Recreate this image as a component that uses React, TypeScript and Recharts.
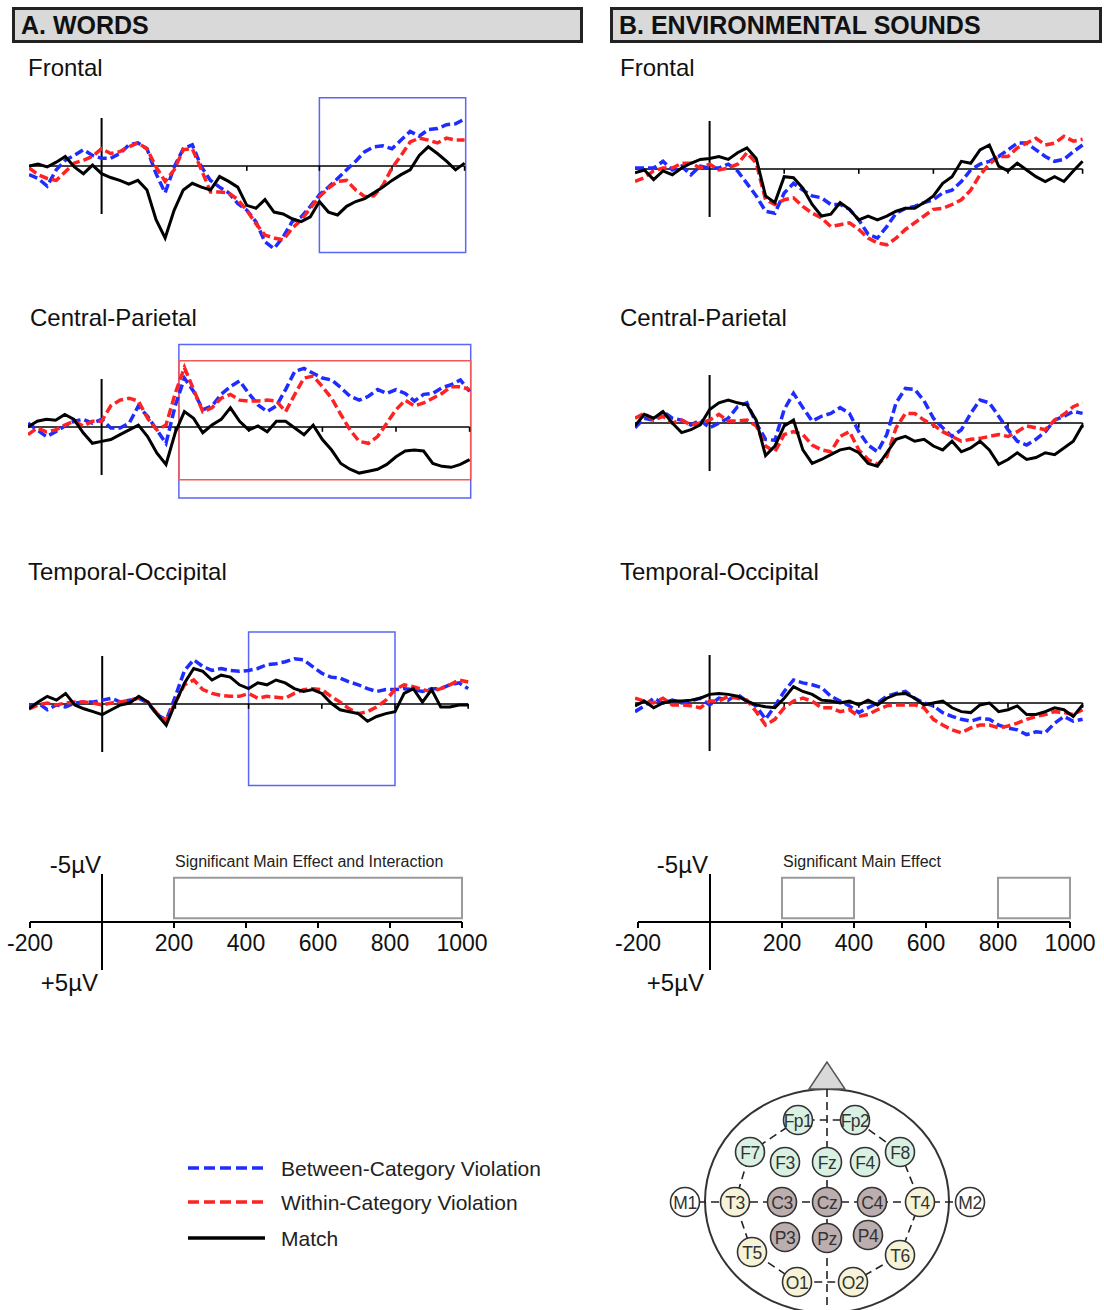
import React from 'react'
import {
  LineChart,
  Line,
  XAxis,
  YAxis,
  ReferenceLine,
  ReferenceArea,
  ScatterChart,
  Scatter,
} from 'recharts'

// time points (ms) of the grand-average waveforms
const TIMES = [
  -200, -175, -150, -125, -100, -75, -50, -25, 0, 25, 50, 75, 100, 125, 150, 175, 200, 225, 250, 275,
  300, 325, 350, 375, 400, 425, 450, 475, 500, 525, 550, 575, 600, 625, 650, 675, 700, 725, 750, 775,
  800, 825, 850, 875, 900, 925, 950, 975, 1000,
]

// amplitudes in µV, negative plotted up
const A_FRONTAL_BETWEEN = [0.9, 1.3, 2.1, 0.4, -0.6, -1.1, -1.7, -1.1, -0.8, -0.8, -1.3, -2.2, -2.4, -1.8, 0.8, 2.8, 0.1, -1.8, -2.2, 0.1, 1.5, 2.2, 2.8, 3.9, 4.6, 5.8, 7.9, 8.6, 7.4, 5.8, 5.3, 4.2, 3.0, 2.2, 1.3, 0.4, -0.5, -1.5, -2.0, -2.1, -1.8, -2.7, -3.6, -3.1, -3.8, -3.9, -4.3, -4.4, -4.9]
const A_FRONTAL_WITHIN = [0.2, 0.9, 1.3, 1.5, 0.6, -0.3, -0.6, -1.0, -1.8, -1.3, -1.5, -2.0, -2.4, -1.8, 0.1, 1.6, 0.4, -1.7, -1.8, 0.4, 2.7, 2.7, 2.8, 3.5, 4.6, 6.0, 7.2, 7.5, 7.7, 6.5, 5.6, 4.4, 3.2, 2.3, 1.6, 1.5, 2.5, 3.2, 3.1, 2.0, 0.2, -1.1, -2.5, -2.9, -2.7, -2.4, -2.9, -2.7, -2.7]
const A_FRONTAL_MATCH = [0, -0.2, 0.1, -0.4, -1.0, 0.1, 0.8, -0.1, 0.8, 1.2, 1.5, 1.9, 1.5, 2.5, 5.6, 7.5, 4.6, 2.5, 1.8, 2.2, 2.5, 1.1, 1.6, 2.2, 4.1, 4.4, 3.5, 4.8, 5.0, 5.5, 5.8, 5.3, 3.7, 4.8, 5.1, 4.2, 3.7, 3.4, 2.8, 2.2, 1.5, 0.9, 0.4, -1.1, -2.0, -1.3, -0.5, 0.4, -0.3]

const A_CP_BETWEEN = [-0.4, 0.3, 1.0, 0.5, -0.1, -0.6, -0.8, -0.4, -0.8, 0.1, 0.1, -0.4, -2.2, -1.1, 0.3, 1.7, -2.2, -5.1, -3.7, -1.8, -2.2, -3.4, -4.2, -4.8, -3.5, -2.3, -1.6, -2.2, -3.9, -5.8, -6.1, -5.6, -5.1, -4.9, -4.1, -3.2, -2.8, -3.2, -3.9, -3.5, -3.9, -3.5, -2.7, -3.4, -3.5, -4.1, -4.4, -4.9, -3.7]
const A_CP_WITHIN = [0.8, 0.1, 0.5, 0.3, -0.2, -0.6, -0.1, -0.6, -0.6, -2.2, -2.8, -3.0, -2.7, -0.9, 0.3, -0.2, -3.5, -6.2, -3.9, -1.6, -2.0, -3.0, -3.4, -2.8, -2.7, -2.7, -2.8, -2.7, -1.6, -3.4, -5.1, -5.3, -4.2, -3.0, -1.3, 0.3, 1.5, 1.7, 1.0, -0.4, -1.8, -2.8, -2.2, -2.5, -3.0, -3.5, -4.2, -4.2, -3.9]
const A_CP_MATCH = [0, -0.6, -0.8, -0.7, -1.3, -0.8, 0.6, 1.7, 1.5, 1.3, 0.8, 0.3, -0.2, 1.0, 2.7, 3.9, 0.6, -1.6, -0.9, 0.6, -0.2, -0.8, -2.0, -0.6, 0.3, -0.1, 0.5, -0.6, -0.6, 0.1, 0.8, -0.2, 1.3, 2.4, 3.8, 4.4, 4.8, 4.6, 4.4, 3.9, 3.1, 2.5, 2.4, 2.5, 3.8, 4.1, 4.2, 3.9, 3.4]

const A_TO_BETWEEN = [0.3, -0.1, 0.6, 0.1, 0.3, -0.1, -0.2, -0.2, -0.4, -0.6, -0.2, -0.4, -0.6, -0.1, 1.1, 1.7, -0.8, -3.5, -4.6, -3.9, -3.5, -3.7, -3.5, -3.4, -3.5, -3.7, -4.1, -4.2, -4.4, -4.7, -4.6, -3.9, -3.2, -2.8, -2.7, -2.3, -2.0, -1.6, -1.3, -1.5, -1.5, -1.6, -1.5, -1.3, -1.6, -1.6, -2.0, -2.2, -1.6]
const A_TO_WITHIN = [0.5, 0.1, -0.1, 0.1, -0.1, -0.2, -0.2, -0.1, 0.1, -0.1, -0.2, -0.4, -0.6, -0.2, 1.0, 1.7, -0.2, -2.0, -2.5, -1.5, -1.1, -0.9, -0.8, -0.8, -1.1, -0.6, -0.8, -0.7, -0.6, -1.1, -1.5, -1.6, -1.5, -0.8, -0.2, 0.5, 1.0, 0.8, 0.3, -0.4, -1.5, -2.0, -1.8, -1.5, -1.3, -1.6, -2.0, -2.5, -2.3]
const A_TO_MATCH = [0.5, -0.2, -0.8, -0.4, -1.1, 0.1, 0.5, 0.8, 1.1, 0.6, 0.1, -0.1, -0.8, -0.2, 1.1, 2.2, -0.1, -2.2, -3.7, -3.4, -2.5, -3.0, -2.8, -2.0, -1.6, -2.2, -2.0, -2.5, -2.2, -1.6, -1.3, -1.5, -1.1, -0.1, 0.6, 0.8, 1.0, 1.8, 1.3, 1.0, 0.8, -1.1, -1.6, -0.2, -1.5, 0.3, 0.3, 0.1, 0.1]

const B_FRONTAL_BETWEEN = [-0.1, -0.1, -0.1, -0.8, 0.1, -0.3, 0.6, -0.3, -0.1, -0.1, -0.5, 0.2, 1.5, 2.8, 4.4, 4.6, 2.5, 1.5, 2.2, 2.8, 3.0, 3.7, 3.7, 4.2, 5.3, 6.8, 7.2, 6.0, 4.6, 4.1, 3.9, 3.5, 3.2, 2.5, 2.2, 1.3, 0.1, -0.5, -0.8, -1.3, -2.0, -2.7, -2.7, -2.0, -1.3, -0.8, -1.0, -1.8, -2.5]
const B_FRONTAL_WITHIN = [1.3, 0.9, 0.2, -0.1, -0.1, -0.6, -0.6, -0.1, -0.5, 0.1, -0.1, -0.5, -1.7, -0.6, 3.2, 3.7, 3.2, 3.0, 3.9, 4.6, 5.1, 6.0, 5.8, 5.6, 6.3, 7.2, 7.7, 7.9, 7.2, 6.3, 5.6, 4.9, 4.2, 4.1, 3.7, 3.2, 2.2, 0.6, -0.5, -1.3, -1.3, -2.2, -2.7, -3.2, -2.5, -2.7, -3.4, -2.9, -3.1]
const B_FRONTAL_MATCH = [0.4, 0.1, 1.1, 0.2, 0.6, -0.1, -0.6, -1.0, -1.1, -1.3, -1.0, -1.7, -2.2, -1.1, 2.8, 3.5, 0.8, 0.9, 2.0, 3.7, 4.9, 4.7, 3.5, 4.2, 5.3, 4.9, 5.3, 4.9, 4.4, 4.1, 4.1, 3.5, 2.8, 1.5, 0.8, -0.8, -0.6, -2.0, -2.5, -0.3, 0.2, -0.6, 0.1, 0.8, 1.3, 0.8, 1.3, 0.2, -0.8]

const B_CP_BETWEEN = [0.5, -0.5, -0.3, -1.2, -0.5, -0.3, 0.2, -0.3, 0.5, 0, -0.5, -1.7, -2.1, 0, 1.7, 1.8, -1.4, -3.1, -1.6, -0.2, -0.7, -1.0, -1.6, -1.0, 0.9, 2.3, 3.0, 1.2, -2.1, -3.6, -3.5, -2.3, -0.5, 0.5, 1.4, 0.7, -1.0, -2.4, -2.1, -0.7, 0.7, 1.9, 2.3, 1.7, 0.9, -0.3, -0.7, -1.2, -1.0]
const B_CP_WITHIN = [-0.5, -1.0, -0.3, -0.7, 0, -0.3, 0.2, 0, -0.3, -0.9, -0.2, -0.2, -0.3, 0.3, 2.4, 3.0, 1.2, 0.9, 1.2, 2.3, 2.8, 3.0, 1.4, 0.9, 2.8, 3.8, 4.3, 3.5, 0.5, -1.0, -1.0, -0.3, 0.2, 0.9, 1.4, 1.9, 1.7, 1.6, 1.4, 1.2, 1.4, 0.9, 0.3, 0.5, 0.7, -0.3, -0.9, -1.7, -2.1]
const B_CP_MATCH = [0.3, -0.9, -0.5, -1.2, 0, 1.0, 0.7, 0.2, -1.4, -2.1, -2.4, -2.1, -1.9, -0.3, 3.4, 2.4, 0.3, -0.3, 2.8, 4.2, 3.8, 3.3, 2.8, 2.6, 3.1, 4.2, 4.5, 3.1, 1.7, 1.4, 1.9, 1.7, 2.4, 2.8, 1.9, 3.0, 2.6, 1.9, 2.8, 4.3, 3.8, 3.1, 3.8, 3.6, 3.1, 3.3, 2.6, 1.9, 0.2]

const B_TO_BETWEEN = [0.9, 0.3, -0.5, 0, -0.3, 0, -0.2, -0.5, 0.2, -0.5, -0.3, -0.9, -0.2, 0.3, 1.7, 0.3, -1.2, -2.4, -2.1, -1.9, -1.6, -0.7, -0.2, 0.3, 1.0, 0.5, 0, -0.7, -1.0, -1.2, -0.5, 0, 0.3, 1.0, 1.4, 1.7, 1.9, 1.6, 1.7, 2.3, 2.6, 2.8, 3.3, 3.0, 3.1, 2.1, 1.4, 1.9, 1.7]
const B_TO_WITHIN = [-0.5, -0.2, 0, -0.5, 0.2, 0.2, 0.3, 0.5, -0.2, -0.2, -0.7, -0.5, -0.3, 0.9, 2.3, 1.7, 0.5, -0.2, -0.5, -0.2, 0.5, 0.5, 0.9, 0.7, 1.4, 1.2, 0.7, 0.3, 0.2, 0.2, 0.2, 0.5, 1.7, 2.3, 2.8, 3.1, 2.6, 2.3, 2.3, 2.6, 2.4, 2.1, 1.7, 1.4, 1.2, 0.9, 1.0, 1.2, 0.7]
const B_TO_MATCH = [0.3, -0.2, 0.5, 0, -0.2, -0.2, -0.3, -0.5, -0.9, -1.0, -0.9, -0.7, -0.2, 0.2, 0.4, 0.5, -0.5, -1.7, -1.2, -0.9, -0.3, -0.2, 0, -0.2, 0.2, -0.3, 0.2, -0.5, -0.9, -1.0, -0.5, 0.2, 0, -0.2, 0.5, 0.9, 1.0, 0.2, 0, 0.9, 0.7, 0.3, 1.2, 1.2, 0.9, 0.5, 0.7, 1.4, 0.2]

// analysis windows marked on the waveforms (ms, µV)
const A_FRONTAL_WINDOWS = [{ x1: 600, x2: 1003, y1: -7.1, y2: 9.0, kind: 'between' }]
const A_CP_WINDOWS = [
  { x1: 210, x2: 1003, y1: -8.6, y2: 7.4, kind: 'between' },
  { x1: 210, x2: 1003, y1: -6.9, y2: 5.5, kind: 'within' },
]
const A_TO_WINDOWS = [{ x1: 400, x2: 800, y1: -7.5, y2: 8.5, kind: 'between' }]

// significant effect windows on the scale bars
const WORDS_SIG = [{ x1: 200, x2: 1000 }]
const SOUNDS_SIG = [{ x1: 200, x2: 400 }, { x1: 800, x2: 1000 }]
const SCALE_TICKS = [-200, 200, 400, 600, 800, 1000]
const WAVE_TICKS = [200, 400, 600, 800, 1000]

const LEGEND_ITEMS = [
  { key: 'between', label: 'Between-Category Violation' },
  { key: 'within', label: 'Within-Category Violation' },
  { key: 'match', label: 'Match' },
]

// 10-20 electrode layout (head-map units)
const ELECTRODES = [
  { name: 'Fp1', x: 138, y: 65, region: 'frontal' },
  { name: 'Fp2', x: 195, y: 65, region: 'frontal' },
  { name: 'F7', x: 90, y: 97, region: 'frontal' },
  { name: 'F3', x: 125, y: 107, region: 'frontal' },
  { name: 'Fz', x: 167, y: 107, region: 'frontal' },
  { name: 'F4', x: 205, y: 107, region: 'frontal' },
  { name: 'F8', x: 240, y: 97, region: 'frontal' },
  { name: 'M1', x: 25, y: 147, region: 'ref' },
  { name: 'T3', x: 75, y: 147, region: 'temporal' },
  { name: 'C3', x: 122, y: 147, region: 'central' },
  { name: 'Cz', x: 167, y: 147, region: 'central' },
  { name: 'C4', x: 212, y: 147, region: 'central' },
  { name: 'T4', x: 260, y: 147, region: 'temporal' },
  { name: 'M2', x: 310, y: 147, region: 'ref' },
  { name: 'P3', x: 125, y: 182, region: 'central' },
  { name: 'Pz', x: 167, y: 183, region: 'central' },
  { name: 'P4', x: 208, y: 180, region: 'central' },
  { name: 'T5', x: 92, y: 197, region: 'temporal' },
  { name: 'T6', x: 240, y: 200, region: 'temporal' },
  { name: 'O1', x: 137, y: 227, region: 'temporal' },
  { name: 'O2', x: 193, y: 227, region: 'temporal' },
]
const RING_ORDER = ['Fp1', 'F7', 'T3', 'T5', 'O1', 'O2', 'T6', 'T4', 'F8', 'Fp2', 'Fp1']
const CROSS_ORDER = ['M1', 'T3', 'C3', 'Cz', 'C4', 'T4', 'M2']
const MIDLINE = [{ x: 167, y: 34 }, { x: 167, y: 262 }]

const BLUE = '#1f2cff'
const RED = '#ff2222'
const BLUE_BOX = '#5a66f4'
const RED_BOX = '#f25858'
const REGION_FILL: Record<string, string> = {
  frontal: '#d8f1e2',
  central: '#bcaeae',
  temporal: '#f6f3d8',
  ref: '#ffffff',
}

const PX_PER_UV = 9.6
const Y_HALF = 10
const FONT = '"Liberation Sans", Arial, Helvetica, sans-serif'

function rows(between: number[], within: number[], match: number[]) {
  return TIMES.map((t, i) => ({ t, between: between[i], within: within[i], match: match[i] }))
}

function ErpPanel({ zeroX, msPx, baseline, between, within, match, windows = [] }: any) {
  const xMax = 1012
  const left = zeroX - 200 * msPx
  const width = (xMax + 200) * msPx
  const top = baseline - Y_HALF * PX_PER_UV
  const height = 2 * Y_HALF * PX_PER_UV
  return (
    <div style={{ position: 'absolute', left, top }}>
      <LineChart width={width} height={height} data={rows(between, within, match)} margin={{ top: 0, right: 0, bottom: 0, left: 0 }}>
        <XAxis dataKey="t" type="number" domain={[-200, xMax]} allowDataOverflow hide />
        <YAxis type="number" domain={[-Y_HALF, Y_HALF]} reversed allowDataOverflow hide />
        <ReferenceLine segment={[{ x: -200, y: 0 }, { x: 1000, y: 0 }]} stroke="#000" strokeWidth={1.6} ifOverflow="visible" />
        {WAVE_TICKS.map((t) => (
          <ReferenceLine key={t} segment={[{ x: t, y: 0 }, { x: t, y: 0.5 }]} stroke="#000" strokeWidth={1.6} ifOverflow="visible" />
        ))}
        <ReferenceLine segment={[{ x: 0, y: -5 }, { x: 0, y: 5 }]} stroke="#000" strokeWidth={2} ifOverflow="visible" />
        {windows.map((w: any, i: number) => (
          <ReferenceArea
            key={i}
            x1={w.x1}
            x2={w.x2}
            y1={w.y1}
            y2={w.y2}
            fill="none"
            fillOpacity={0}
            stroke={w.kind === 'between' ? BLUE_BOX : RED_BOX}
            strokeWidth={1.5}
            ifOverflow="visible"
          />
        ))}
        <Line type="linear" dataKey="between" stroke={BLUE} strokeWidth={3.5} strokeDasharray="9 4" dot={false} isAnimationActive={false} />
        <Line type="linear" dataKey="within" stroke={RED} strokeWidth={3.5} strokeDasharray="9 4" dot={false} isAnimationActive={false} />
        <Line type="linear" dataKey="match" stroke="#000" strokeWidth={3} dot={false} isAnimationActive={false} />
      </LineChart>
    </div>
  )
}

function WindowLabel({ viewBox, text }: any) {
  if (!viewBox) return null
  return (
    <text x={viewBox.x + 1} y={viewBox.y - 11} fontSize={16} fill="#222" fontFamily={FONT}>
      {text}
    </text>
  )
}

function ScaleBar({ zeroX, windows, label }: any) {
  const msPx = 0.36
  const side = 40
  const topPad = 32
  const axisH = 50
  const plotH = 5 * PX_PER_UV
  const left = zeroX - 200 * msPx - side
  const top = 922 - plotH - topPad
  return (
    <div style={{ position: 'absolute', left, top }}>
      <LineChart
        width={1200 * msPx + 2 * side}
        height={topPad + plotH + axisH}
        data={SCALE_TICKS.map((t) => ({ t }))}
        margin={{ top: topPad, right: side, bottom: 0, left: side }}
      >
        <XAxis
          dataKey="t"
          type="number"
          domain={[-200, 1000]}
          ticks={SCALE_TICKS}
          interval={0}
          allowDataOverflow
          height={axisH}
          axisLine={{ stroke: '#000', strokeWidth: 2 }}
          tickLine={{ stroke: '#000', strokeWidth: 2 }}
          tickSize={6}
          tickMargin={7}
          tick={{ fill: '#111', fontSize: 23 }}
        />
        <YAxis type="number" domain={[-5, 0]} reversed allowDataOverflow hide />
        <ReferenceLine segment={[{ x: 0, y: -5 }, { x: 0, y: 5 }]} stroke="#000" strokeWidth={2} ifOverflow="visible" />
        {windows.map((w: any, i: number) => (
          <ReferenceArea
            key={i}
            x1={w.x1}
            x2={w.x2}
            y1={-4.6}
            y2={-0.4}
            fill="none"
            fillOpacity={0}
            stroke="#9a9a9a"
            strokeWidth={2}
            label={i === 0 ? <WindowLabel text={label} /> : undefined}
          />
        ))}
      </LineChart>
    </div>
  )
}

function ElectrodeShape({ cx, cy, payload }: any) {
  return (
    <g>
      <circle cx={cx} cy={cy} r={14.5} fill={REGION_FILL[payload.region]} stroke="#333" strokeWidth={1.6} />
      <text x={cx} y={cy + 1} textAnchor="middle" dominantBaseline="central" fontSize={17.5} fill="#333" fontFamily={FONT} letterSpacing={-0.5}>
        {payload.name}
      </text>
    </g>
  )
}

function HeadMap() {
  const byName = (n: string) => ELECTRODES.find((e) => e.name === n)!
  const ring = RING_ORDER.map(byName)
  const cross = CROSS_ORDER.map(byName)
  const dashed = { stroke: '#222', strokeWidth: 1.6, strokeDasharray: '8 5' }
  return (
    <div style={{ position: 'absolute', left: 660, top: 1055, width: 340, height: 255 }}>
      <svg width={340} height={255} style={{ position: 'absolute', left: 0, top: 0 }}>
        <ellipse cx={167} cy={146} rx={122} ry={112} fill="#fff" stroke="#333" strokeWidth={2} />
        <polygon points="167,7 149,34 185,34" fill="#d9d9d9" stroke="#555" strokeWidth={1.5} />
      </svg>
      <div style={{ position: 'absolute', left: 0, top: 0 }}>
        <ScatterChart width={340} height={255} margin={{ top: 0, right: 0, bottom: 0, left: 0 }}>
          <XAxis dataKey="x" type="number" domain={[0, 340]} allowDataOverflow hide />
          <YAxis dataKey="y" type="number" domain={[0, 255]} reversed allowDataOverflow hide />
          <Scatter data={MIDLINE} line={dashed} lineType="joint" shape={() => <g />} isAnimationActive={false} />
          <Scatter data={ring} line={dashed} lineType="joint" shape={() => <g />} isAnimationActive={false} />
          <Scatter data={cross} line={dashed} lineType="joint" shape={() => <g />} isAnimationActive={false} />
          <Scatter data={ELECTRODES} shape={(p: any) => <ElectrodeShape {...p} />} isAnimationActive={false} />
        </ScatterChart>
      </div>
    </div>
  )
}

function Legend() {
  return (
    <svg width={420} height={110} style={{ position: 'absolute', left: 180, top: 1150 }}>
      {LEGEND_ITEMS.map((it, i) => {
        const y = [18, 52, 88][i]
        const color = it.key === 'between' ? BLUE : it.key === 'within' ? RED : '#000'
        return (
          <g key={it.key}>
            <line x1={8} x2={85} y1={y} y2={y} stroke={color} strokeWidth={3.5} strokeDasharray={it.key === 'match' ? undefined : '11 5'} />
            <text x={101} y={y} dominantBaseline="central" fontSize={21} fill="#222" fontFamily={FONT}>
              {it.label}
            </text>
          </g>
        )
      })}
    </svg>
  )
}

function Header({ left, width, text }: any) {
  return (
    <div
      style={{
        position: 'absolute',
        left,
        top: 7,
        width,
        height: 36,
        boxSizing: 'border-box',
        border: '3px solid #222',
        background: '#d9d9d9',
        fontWeight: 'bold',
        fontSize: 25,
        lineHeight: '30px',
        paddingLeft: 6,
        color: '#111',
      }}
    >
      {text}
    </div>
  )
}

function Title({ left, y, text }: any) {
  return (
    <div style={{ position: 'absolute', left, top: y - 13, fontSize: 24, lineHeight: '26px', color: '#111', whiteSpace: 'nowrap' }}>
      {text}
    </div>
  )
}

function UvLabel({ right, y, text }: any) {
  return (
    <div style={{ position: 'absolute', left: right - 80, width: 80, textAlign: 'right', top: y - 13, fontSize: 24, lineHeight: '26px', color: '#111' }}>
      {text}
    </div>
  )
}

export default function App() {
  return (
    <div style={{ position: 'absolute', left: 0, top: 0, width: 1104, height: 1310, background: '#fff', fontFamily: FONT, overflow: 'hidden' }}>
      <Header left={12} width={571} text="A. WORDS" />
      <Header left={610} width={492} text="B. ENVIRONMENTAL SOUNDS" />

      <Title left={28} y={68} text="Frontal" />
      <Title left={30} y={318} text="Central-Parietal" />
      <Title left={28} y={572} text="Temporal-Occipital" />
      <Title left={620} y={68} text="Frontal" />
      <Title left={620} y={318} text="Central-Parietal" />
      <Title left={620} y={572} text="Temporal-Occipital" />

      <ErpPanel zeroX={102} msPx={0.363} baseline={166} between={A_FRONTAL_BETWEEN} within={A_FRONTAL_WITHIN} match={A_FRONTAL_MATCH} windows={A_FRONTAL_WINDOWS} />
      <ErpPanel zeroX={102} msPx={0.368} baseline={427} between={A_CP_BETWEEN} within={A_CP_WITHIN} match={A_CP_MATCH} windows={A_CP_WINDOWS} />
      <ErpPanel zeroX={102} msPx={0.366} baseline={704} between={A_TO_BETWEEN} within={A_TO_WITHIN} match={A_TO_MATCH} windows={A_TO_WINDOWS} />
      <ErpPanel zeroX={710} msPx={0.373} baseline={169} between={B_FRONTAL_BETWEEN} within={B_FRONTAL_WITHIN} match={B_FRONTAL_MATCH} />
      <ErpPanel zeroX={710} msPx={0.373} baseline={423} between={B_CP_BETWEEN} within={B_CP_WITHIN} match={B_CP_MATCH} />
      <ErpPanel zeroX={710} msPx={0.373} baseline={703} between={B_TO_BETWEEN} within={B_TO_WITHIN} match={B_TO_MATCH} />

      <ScaleBar zeroX={102} windows={WORDS_SIG} label="Significant Main Effect and Interaction" />
      <ScaleBar zeroX={710} windows={SOUNDS_SIG} label="Significant Main Effect" />
      <UvLabel right={101} y={865} text="-5µV" />
      <UvLabel right={98} y={983} text="+5µV" />
      <UvLabel right={708} y={865} text="-5µV" />
      <UvLabel right={704} y={983} text="+5µV" />

      <Legend />
      <HeadMap />
    </div>
  )
}
